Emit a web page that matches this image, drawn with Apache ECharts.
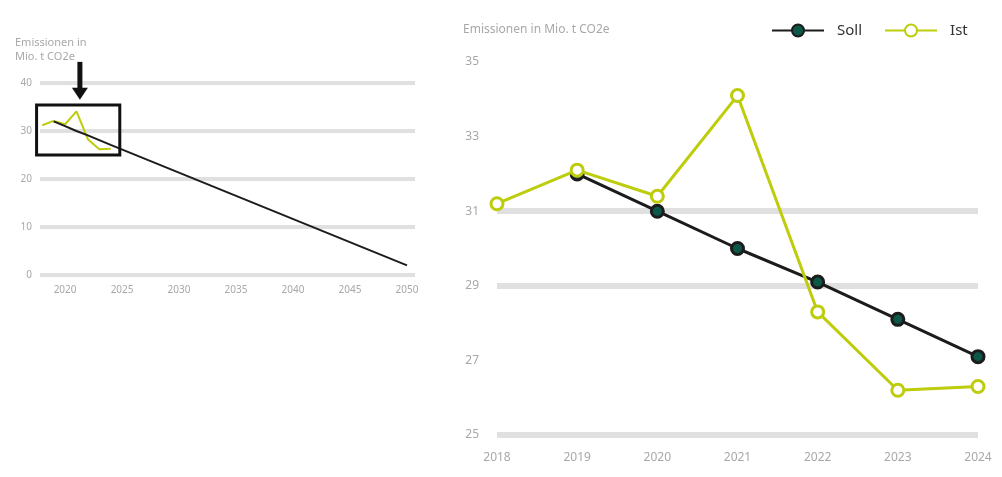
<!DOCTYPE html>
<html><head><meta charset="utf-8">
<script src="https://cdn.jsdelivr.net/npm/echarts@6/dist/echarts.min.js"></script>
<style>html,body{margin:0;padding:0;background:#fff}#c{width:1002px;height:477px}</style>
</head><body><div id="c"></div>
<script>
// ---- data ----
const years = ['2018','2019','2020','2021','2022','2023','2024'];
const soll = [null, 32.0, 31.0, 30.0, 29.1, 28.1, 27.1];
const ist = [31.2, 32.1, 31.4, 34.1, 28.3, 26.2, 26.3];
const sollLongYears = [2019, 2020, 2021, 2022, 2023, 2024, 2050];
const sollLongValues = [32.0, 31.0, 30.0, 29.1, 28.1, 27.1, 2.0];
const istYears = [2018, 2019, 2020, 2021, 2022, 2023, 2024];
const leftXTicks = [2020, 2025, 2030, 2035, 2040, 2045, 2050];
const rightYTicks = [25, 27, 29, 31, 33, 35];
const leftYTicks = [0, 10, 20, 30, 40];
const zoomBox = {x0: 2017.5, x1: 2024.8, y0: 25, y1: 35.4};
const arrowAt = {x: 2021.3, yTop: 44.4, yTip: 36.5};

const YG = '#bdcc0b', BK = '#1c1c1c', TEAL = '#0c5848', GRID = '#e0e0e0', TXT = '#a8a8a8';
const font = 'Noto Sans';

const chart = echarts.init(document.getElementById('c'), null, {renderer: 'canvas'});
const option = {
  animation: false,
  textStyle: {fontFamily: font},
  title: [
    {text: 'Emissionen in\nMio. t CO2e', left: 15, top: 36, padding: 0, textStyle: {fontSize: 11, fontWeight: 'normal', color: TXT, lineHeight: 14, fontFamily: font}},
    {text: 'Emissionen in Mio. t CO2e', left: 463, top: 24, padding: 0, textStyle: {fontSize: 12, fontWeight: 'normal', color: TXT, fontFamily: font}}
  ],
  legend: {
    data: ['Soll', 'Ist'], left: 766, top: 18, itemWidth: 52, itemHeight: 15, itemGap: 22,
    textStyle: {fontSize: 15, color: '#333', fontFamily: font, padding: [0, 0, 0, 8]}
  },
  grid: [
    {left: 40, top: 83, width: 375, height: 192, containLabel: false},
    {left: 497, top: 62, width: 481, height: 373, containLabel: false}
  ],
  xAxis: [
    {gridIndex: 0, type: 'value', min: 2017.8, max: 2050.7,
     axisLine: {show: false}, axisTick: {show: false, customValues: leftXTicks}, splitLine: {show: false},
     axisLabel: {customValues: leftXTicks, color: TXT, fontSize: 10, margin: 10, formatter: v => String(v)}},
    {gridIndex: 1, type: 'category', data: years, boundaryGap: false,
     axisLine: {show: false}, axisTick: {show: false},
     axisLabel: {color: TXT, fontSize: 12, margin: 17}}
  ],
  yAxis: [
    {gridIndex: 0, type: 'value', min: leftYTicks[0], max: leftYTicks[leftYTicks.length - 1], interval: 10,
     axisLine: {show: false}, axisTick: {show: false},
     axisLabel: {color: TXT, fontSize: 10, margin: 8},
     splitLine: {lineStyle: {color: GRID, width: 4}}},
    {gridIndex: 1, type: 'value', min: rightYTicks[0], max: rightYTicks[rightYTicks.length - 1], interval: 2,
     axisLine: {show: false}, axisTick: {show: false},
     axisLabel: {color: TXT, fontSize: 12, margin: 18},
     splitLine: {lineStyle: {color: [GRID, 'rgba(0,0,0,0)', GRID, GRID, 'rgba(0,0,0,0)', 'rgba(0,0,0,0)'], width: 6}}}
  ],
  series: [
    {name: 'Soll', type: 'line', xAxisIndex: 1, yAxisIndex: 1, data: soll, z: 3,
     symbol: 'circle', symbolSize: 12, showSymbol: true,
     lineStyle: {color: BK, width: 3}, itemStyle: {color: TEAL, borderColor: BK, borderWidth: 3}},
    {name: 'Ist', type: 'line', xAxisIndex: 1, yAxisIndex: 1, data: ist, z: 4,
     symbol: 'circle', symbolSize: 12,
     lineStyle: {color: YG, width: 3}, itemStyle: {color: '#fff', borderColor: YG, borderWidth: 3}},
    {name: 'Soll', type: 'line', xAxisIndex: 0, yAxisIndex: 0, showSymbol: false, z: 3,
     data: sollLongYears.map((y, i) => [y, sollLongValues[i]]),
     lineStyle: {color: BK, width: 2}, itemStyle: {color: BK}},
    {name: 'Ist', type: 'line', xAxisIndex: 0, yAxisIndex: 0, showSymbol: false, z: 2,
     data: istYears.map((y, i) => [y, ist[i]]),
     lineStyle: {color: YG, width: 2}, itemStyle: {color: YG}}
  ]
};
chart.setOption(option);

// annotation: zoom box + arrow on the left chart, positioned through the chart's own scales
const p0 = chart.convertToPixel({gridIndex: 0}, [zoomBox.x0, zoomBox.y1]);
const p1 = chart.convertToPixel({gridIndex: 0}, [zoomBox.x1, zoomBox.y0]);
const aTop = chart.convertToPixel({gridIndex: 0}, [arrowAt.x, arrowAt.yTop]);
const aTip = chart.convertToPixel({gridIndex: 0}, [arrowAt.x, arrowAt.yTip]);
chart.setOption({
  graphic: [
    {type: 'rect', shape: {x: p0[0], y: p0[1], width: p1[0] - p0[0], height: p1[1] - p0[1]},
     style: {fill: 'none', stroke: '#111', lineWidth: 3}, z: 10},
    {type: 'line', shape: {x1: aTop[0], y1: aTop[1], x2: aTip[0], y2: aTip[1] - 8},
     style: {stroke: '#111', lineWidth: 5}, z: 10},
    {type: 'polygon', shape: {points: [[aTip[0] - 8, aTip[1] - 12], [aTip[0] + 8, aTip[1] - 12], [aTip[0], aTip[1]]]},
     style: {fill: '#111'}, z: 10}
  ]
});
</script>
</body></html>
